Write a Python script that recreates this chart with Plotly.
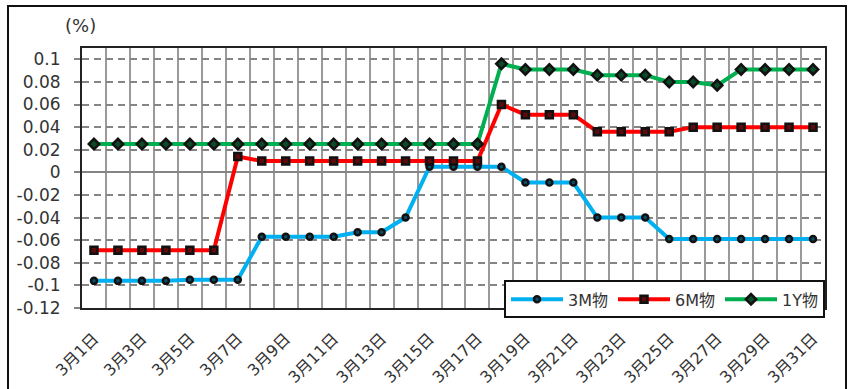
import plotly.graph_objects as go

# Daily yields (%), 3月1日 .. 3月31日
days = [f"3月{d}日" for d in range(1, 32)]

yield_3m = [-0.096, -0.096, -0.096, -0.096, -0.095, -0.095, -0.095,
            -0.057, -0.057, -0.057, -0.057, -0.053, -0.053, -0.040,
            0.005, 0.005, 0.005, 0.005, -0.009, -0.009, -0.009,
            -0.040, -0.040, -0.040, -0.059, -0.059, -0.059, -0.059,
            -0.059, -0.059, -0.059]

yield_6m = [-0.069, -0.069, -0.069, -0.069, -0.069, -0.069, 0.014,
            0.010, 0.010, 0.010, 0.010, 0.010, 0.010, 0.010,
            0.010, 0.010, 0.010, 0.060, 0.051, 0.051, 0.051,
            0.036, 0.036, 0.036, 0.036, 0.040, 0.040, 0.040,
            0.040, 0.040, 0.040]

yield_1y = [0.025, 0.025, 0.025, 0.025, 0.025, 0.025, 0.025,
            0.025, 0.025, 0.025, 0.025, 0.025, 0.025, 0.025,
            0.025, 0.025, 0.025, 0.096, 0.091, 0.091, 0.091,
            0.086, 0.086, 0.086, 0.080, 0.080, 0.077, 0.091,
            0.091, 0.091, 0.091]

# every other date is labelled
tick_text = [d if i % 2 == 0 else "" for i, d in enumerate(days)]
y_ticks = [-0.12, -0.1, -0.08, -0.06, -0.04, -0.02, 0, 0.02, 0.04, 0.06, 0.08, 0.1]
y_tick_text = ["-0.12", "-0.1", "-0.08", "-0.06", "-0.04", "-0.02", "0",
               "0.02", "0.04", "0.06", "0.08", "0.1"]

series = [
    ("3M物", yield_3m, "#00B0F0", "#0a4f6a", "circle", 6),
    ("6M物", yield_6m, "#FF0000", "#5c0a0a", "square", 7),
    ("1Y物", yield_1y, "#00B050", "#0b4a26", "diamond", 8),
]

fig = go.Figure()
for name, vals, color, fill, symbol, size in series:
    fig.add_trace(go.Scatter(
        x=days, y=vals, name=name, mode="lines+markers",
        line=dict(color=color, width=4),
        marker=dict(symbol=symbol, size=size, color=fill,
                    line=dict(color="#111111", width=2.5)),
    ))

font_main = "DejaVu Sans, Noto Sans CJK JP, sans-serif"
text_col = "#333333"

fig.update_layout(
    width=854, height=389,
    margin=dict(l=82, r=29, t=48, b=81),
    paper_bgcolor="white", plot_bgcolor="white",
    font=dict(family=font_main, size=16, color=text_col),
    showlegend=True,
    legend=dict(
        orientation="h", x=1.0, xanchor="right", y=-0.04, yanchor="bottom",
        bgcolor="white", bordercolor="#111111", borderwidth=2,
        font=dict(family=font_main, size=16, color=text_col),
        itemwidth=52, tracegroupgap=0,
    ),
    xaxis=dict(
        type="category", tickmode="array", tickvals=days, ticktext=tick_text,
        tickson="boundaries", showgrid=True, gridcolor="#9A9A9A", gridwidth=1.5,
        ticks="", tickangle=-45, ticklabelstandoff=13, automargin=False,
        tickfont=dict(family=font_main, size=16, color=text_col),
        showline=True, linecolor="#222222", linewidth=2, mirror=True,
        range=[-0.5, 30.5],
    ),
    yaxis=dict(
        range=[-0.12, 0.11], tickmode="array", tickvals=y_ticks, ticktext=y_tick_text,
        showgrid=True, gridcolor="#858585", gridwidth=1.5, griddash="7px,5px",
        zeroline=True, zerolinecolor="#858585", zerolinewidth=1.5,
        ticks="outside", ticklen=6, tickcolor="#858585", tickwidth=1.5,
        tickfont=dict(family=font_main, size=17, color=text_col),
        showline=True, linecolor="#222222", linewidth=2, mirror=True,
        ticklabelstandoff=10, automargin=False,
    ),
    annotations=[dict(
        text="(%)", x=(80 - 82) / 743, y=(308 - 25) / 260, xref="paper", yref="paper",
        showarrow=False, xanchor="center", yanchor="middle",
        font=dict(family=font_main, size=18, color=text_col),
    )],
    shapes=[dict(
        type="rect", xref="paper", yref="paper",
        x0=(8 - 82) / 743, x1=(846 - 82) / 743,
        y0=(308 - 400) / 260, y1=(308 - 6) / 260,
        line=dict(color="#111111", width=2), fillcolor="rgba(0,0,0,0)",
        layer="below",
    )],
)

fig.write_html("out.html")
